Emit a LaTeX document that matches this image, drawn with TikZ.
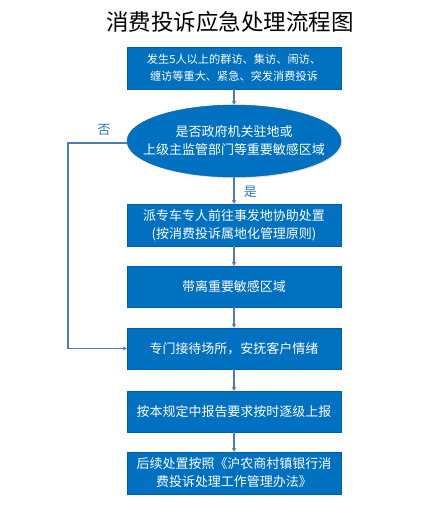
\documentclass[tikz,border=0pt]{standalone}
\usepackage{fontspec}
\setmainfont{Noto Sans CJK SC}
\usetikzlibrary{arrows.meta,positioning,shadows,shapes.geometric}
\definecolor{boxblue}{HTML}{0070C0}
\definecolor{lineblue}{HTML}{4A7EBB}
\definecolor{labelblue}{HTML}{2E75B6}

\begin{document}
\begin{tikzpicture}[x=1pt,y=-1pt,
    stepbox/.style={draw=boxblue!85!black, fill=boxblue, text=white,
      minimum width=214pt, minimum height=42pt, inner sep=0pt, align=center,
      font=\fontsize{13}{18}\selectfont,
      drop shadow={opacity=0.25, shadow xshift=1.2pt, shadow yshift=-1.2pt}},
    decision/.style={stepbox, ellipse, minimum width=214pt, minimum height=72pt,
      inner xsep=-16pt, inner ysep=-2pt},
    flow/.style={lineblue, line width=1.2pt, -{Stealth[length=4pt,width=4.5pt]}},
    branch/.style={labelblue, font=\fontsize{13}{15}\selectfont}]
    \useasboundingbox (0,0) rectangle (446,507);
    % title
    \node (title) at (230,22) {\fontsize{22.5}{26}\selectfont 消费投诉应急处理流程图};
    % main column
    \node[stepbox, font=\fontsize{11.2}{17}\selectfont] (event) at (234,68)
      {发生5人以上的群访、集访、闹访、\\缠访等重大、紧急、突发消费投诉};
    \node[decision] (sensitive) at (234,141)
      {是否政府机关驻地或\\上级主监管部门等重要敏感区域};
    \node[stepbox] (dispatch) at (234,225)
      {派专车专人前往事发地协助处置\\(按消费投诉属地化管理原则)};
    \node[stepbox, minimum height=41pt] (leave) at (234,286.5) {带离重要敏感区域};
    \node[stepbox, minimum height=41pt] (reception) at (234,348.5) {专门接待场所，安抚客户情绪};
    \node[stepbox, minimum height=41pt] (report) at (234,411.5) {按本规定中报告要求按时逐级上报};
    \node[stepbox] (follow) at (234,473)
      {后续处置按照《沪农商村镇银行消\\费投诉处理工作管理办法》};
    % connectors
    \draw[flow] (event) -- (sensitive);
    \draw[flow] (sensitive) -- (dispatch) node[branch, pos=0.55, right=6pt] (yes) {是};
    \draw[flow] (dispatch) -- (leave);
    \draw[flow] (leave) -- (reception);
    \draw[flow] (reception) -- (report);
    \draw[flow] (report) -- (follow);
    % no branch
    \coordinate (bend) at (68,143);
    \draw[flow] (sensitive.west |- bend) -- (bend) |- (reception.west);
    \node[branch] (no) at (104,130) {否};
  \end{tikzpicture}
\end{document}
